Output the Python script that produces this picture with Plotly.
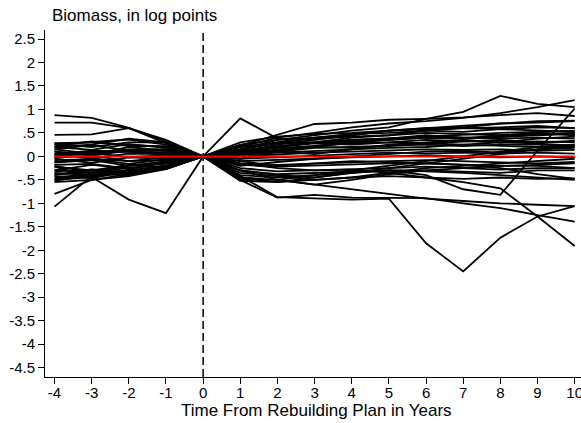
import plotly.graph_objects as go

# Years relative to the start of the rebuilding plan
years = [-4, -3, -2, -1, 0, 1, 2, 3, 4, 5, 6, 7, 8, 9, 10]
year_labels = ["-4", "-3", "-2", "-1", "0", "1", "2", "3", "4", "5", "6", "7", "8", "9", "10"]

# Log biomass of each stock relative to the plan year (year 0 = 0)
stock_01 = [0.88, 0.82, 0.61, 0.32, 0, 0.10, 0.20, 0.28, 0.32, 0.38, 0.42, 0.45, 0.50, 0.52, 0.55]
stock_02 = [0.72, 0.72, 0.60, 0.28, 0, 0.05, 0.15, 0.22, 0.30, 0.35, 0.40, 0.38, 0.42, 0.45, 0.48]
stock_03 = [0.46, 0.47, 0.60, 0.35, 0, 0.15, 0.30, 0.40, 0.45, 0.55, 0.60, 0.62, 0.70, 0.75, 0.76]
stock_04 = [-1.07, -0.42, -0.30, -0.20, 0, 0.08, 0.12, 0.20, 0.18, 0.22, 0.28, 0.25, 0.30, 0.28, 0.32]
stock_05 = [-0.80, -0.50, -0.38, -0.25, 0, -0.20, -0.12, -0.05, 0.00, 0.05, 0.10, 0.12, 0.08, 0.15, 0.18]
stock_06 = [-0.22, -0.44, -0.92, -1.21, 0, 0.12, 0.22, 0.30, 0.35, 0.38, 0.45, 0.40, 0.42, 0.48, 0.50]
stock_07 = [0.05, 0.12, 0.10, 0.08, 0, 0.81, 0.38, 0.28, 0.25, 0.30, 0.28, 0.32, 0.35, 0.30, 0.33]
stock_08 = [-0.12, -0.05, -0.10, -0.08, 0, -0.42, -0.87, -0.89, -0.92, -0.90, -1.85, -2.45, -1.73, -1.28, -1.06]
stock_09 = [0.28, 0.30, 0.25, 0.20, 0, 0.23, 0.46, 0.69, 0.72, 0.78, 0.80, 0.83, 0.88, 0.92, 0.86]
stock_10 = [0.20, 0.25, 0.38, 0.30, 0, 0.15, 0.35, 0.45, 0.55, 0.62, 0.80, 0.95, 1.29, 1.12, 1.05]
stock_11 = [-0.30, -0.18, -0.26, -0.12, 0, 0.20, 0.40, 0.50, 0.62, 0.70, 0.75, 0.82, 0.92, 1.05, 1.20]
stock_12 = [-0.40, -0.28, -0.34, -0.20, 0, -0.30, -0.40, -0.45, -0.35, -0.30, -0.40, -0.70, -0.82, 0.12, 1.02]
stock_13 = [0.15, 0.24, 0.12, 0.15, 0, -0.15, -0.25, -0.30, -0.28, -0.35, -0.45, -0.55, -0.68, -1.28, -1.91]
stock_14 = [-0.20, -0.34, -0.20, -0.15, 0, -0.50, -0.88, -0.82, -0.88, -0.88, -0.89, -1.00, -1.10, -1.25, -1.39]
stock_15 = [-0.48, -0.40, -0.33, -0.25, 0, -0.45, -0.50, -0.60, -0.70, -0.80, -0.90, -0.95, -1.00, -1.03, -1.06]
stock_16 = [0.00, 0.08, -0.02, 0.03, 0, -0.52, -0.55, -0.50, -0.45, -0.42, -0.45, -0.48, -0.45, -0.48, -0.47]
stock_17 = [-0.05, -0.14, -0.02, -0.05, 0, -0.30, -0.50, -0.40, -0.35, -0.30, -0.32, -0.35, -0.40, -0.45, -0.50]
stock_18 = [0.10, 0.04, 0.20, 0.12, 0, -0.10, -0.20, -0.15, -0.10, -0.12, -0.15, -0.18, -0.25, -0.38, -0.48]
stock_19 = [0.25, 0.30, 0.36, 0.25, 0, 0.30, 0.42, 0.48, 0.50, 0.55, 0.58, 0.60, 0.62, 0.65, 0.60]
stock_20 = [0.22, 0.32, 0.22, 0.22, 0, 0.25, 0.35, 0.40, 0.48, 0.50, 0.55, 0.52, 0.58, 0.55, 0.52]
stock_21 = [0.20, 0.14, 0.26, 0.18, 0, 0.20, 0.30, 0.38, 0.42, 0.45, 0.50, 0.48, 0.45, 0.50, 0.45]
stock_22 = [0.15, 0.06, 0.15, 0.15, 0, 0.15, 0.28, 0.30, 0.35, 0.38, 0.42, 0.40, 0.38, 0.40, 0.38]
stock_23 = [0.10, 0.02, 0.12, 0.12, 0, 0.10, 0.18, 0.22, 0.28, 0.30, 0.35, 0.32, 0.30, 0.32, 0.30]
stock_24 = [0.05, -0.04, 0.06, 0.05, 0, 0.05, 0.10, 0.18, 0.20, 0.22, 0.25, 0.22, 0.25, 0.25, 0.24]
stock_25 = [0.02, 0.08, 0.10, 0.04, 0, 0.03, 0.08, 0.12, 0.15, 0.18, 0.20, 0.25, 0.22, 0.20, 0.20]
stock_26 = [-0.03, 0.02, -0.10, -0.02, 0, 0.00, 0.04, 0.08, 0.10, 0.12, 0.15, 0.14, 0.15, 0.12, 0.14]
stock_27 = [-0.08, -0.06, -0.16, -0.06, 0, -0.05, -0.02, 0.02, 0.05, 0.08, 0.06, 0.08, 0.06, 0.08, 0.06]
stock_28 = [-0.13, -0.08, -0.20, -0.10, 0, -0.10, -0.08, -0.05, -0.02, 0.00, 0.02, 0.00, -0.02, 0.00, -0.02]
stock_29 = [-0.18, -0.16, -0.26, -0.14, 0, -0.15, -0.18, -0.15, -0.12, -0.10, -0.08, -0.10, -0.12, -0.15, -0.12]
stock_30 = [-0.22, -0.30, -0.18, -0.16, 0, -0.18, -0.22, -0.20, -0.18, -0.15, -0.15, -0.18, -0.20, -0.18, -0.15]
stock_31 = [-0.28, -0.36, -0.24, -0.20, 0, -0.25, -0.32, -0.30, -0.28, -0.25, -0.22, -0.25, -0.28, -0.25, -0.25]
stock_32 = [-0.32, -0.28, -0.34, -0.22, 0, -0.30, -0.38, -0.35, -0.32, -0.30, -0.30, -0.32, -0.35, -0.30, -0.30]
stock_33 = [-0.35, -0.40, -0.28, -0.24, 0, -0.35, -0.42, -0.50, -0.45, -0.35, -0.25, -0.20, -0.15, -0.10, -0.05]
stock_34 = [-0.38, -0.34, -0.38, -0.25, 0, -0.40, -0.45, -0.40, -0.30, -0.20, -0.10, 0.00, 0.10, 0.20, 0.25]
stock_35 = [-0.42, -0.46, -0.32, -0.27, 0, -0.45, -0.55, -0.45, -0.35, -0.25, -0.15, -0.05, 0.05, 0.15, 0.20]
stock_36 = [-0.45, -0.38, -0.40, -0.26, 0, -0.50, -0.50, -0.60, -0.50, -0.38, -0.30, -0.25, -0.20, -0.20, -0.25]
stock_37 = [-0.50, -0.44, -0.30, -0.22, 0, 0.10, 0.25, 0.35, 0.45, 0.55, 0.60, 0.65, 0.70, 0.72, 0.75]
stock_38 = [-0.55, -0.50, -0.42, -0.27, 0, 0.05, 0.20, 0.30, 0.40, 0.45, 0.55, 0.60, 0.58, 0.62, 0.60]
stock_39 = [0.27, 0.20, 0.30, 0.30, 0, -0.05, 0.10, 0.20, 0.30, 0.35, 0.40, 0.38, 0.45, 0.50, 0.46]
stock_40 = [-0.52, -0.40, -0.36, -0.24, 0, 0.12, 0.10, 0.05, 0.15, 0.25, 0.30, 0.35, 0.30, 0.38, 0.42]

# Reference path (no change) drawn in red on top
reference_path = [0, 0, 0, 0, 0, 0, 0, 0, 0, 0, 0, 0, 0, 0, 0]

# Y-axis tick values and Stata-style labels
y_ticks = [2.5, 2, 1.5, 1, 0.5, 0, -0.5, -1, -1.5, -2, -2.5, -3, -3.5, -4, -4.5]
y_tick_labels = ["2.5", "2", "1.5", "1", ".5", "0", "-.5", "-1", "-1.5", "-2",
                 "-2.5", "-3", "-3.5", "-4", "-4.5"]

stocks = [stock_01, stock_02, stock_03, stock_04, stock_05, stock_06, stock_07, stock_08,
          stock_09, stock_10, stock_11, stock_12, stock_13, stock_14, stock_15, stock_16,
          stock_17, stock_18, stock_19, stock_20, stock_21, stock_22, stock_23, stock_24,
          stock_25, stock_26, stock_27, stock_28, stock_29, stock_30, stock_31, stock_32,
          stock_33, stock_34, stock_35, stock_36, stock_37, stock_38, stock_39, stock_40]

FONT = "Arial, Liberation Sans, sans-serif"

fig = go.Figure()
for path in stocks:
    fig.add_trace(go.Scatter(x=years, y=path, mode="lines",
                             line=dict(color="black", width=1.8),
                             hoverinfo="skip", showlegend=False))

fig.add_trace(go.Scatter(x=years, y=reference_path, mode="lines",
                         line=dict(color="#ff0000", width=2),
                         hoverinfo="skip", showlegend=False))

# Vertical dashed marker at the start of the plan
fig.add_shape(type="line", xref="x", yref="paper", x0=0, x1=0, y0=0, y1=1,
              line=dict(color="black", width=1.5, dash="8px,4px"), layer="below")

fig.update_layout(
    width=581, height=423,
    margin=dict(l=45, r=0, t=30, b=46),
    paper_bgcolor="white", plot_bgcolor="white",
    font=dict(family=FONT, color="black"),
    showlegend=False,
    xaxis=dict(range=[-4.256, 10.17], tickmode="array", tickvals=years,
               ticktext=year_labels,
               ticks="outside", ticklen=6, tickwidth=1, tickcolor="black",
               showline=True, linecolor="black", linewidth=1,
               showgrid=False, zeroline=False, tickfont=dict(size=15),
               ticklabelstandoff=-4, ticklabeloverflow="allow",
               automargin=False),
    yaxis=dict(range=[-4.699, 2.692], tickmode="array", tickvals=y_ticks,
               ticktext=y_tick_labels, ticks="outside", ticklen=6, tickwidth=1,
               tickcolor="black", showline=True, linecolor="black", linewidth=1,
               showgrid=False, zeroline=False, tickfont=dict(size=15),
               automargin=False),
    annotations=[
        dict(text="Biomass, in log points", xref="paper", yref="paper",
             x=(50 - 45) / 536, y=(377 - 16) / 347, xanchor="left", yanchor="middle",
             showarrow=False, font=dict(size=17)),
        dict(text="Time From Rebuilding Plan in Years", xref="paper", yref="paper",
             x=(316 - 45) / 536, y=(377 - 410) / 347, xanchor="center", yanchor="middle",
             showarrow=False, font=dict(size=17)),
    ],
)

fig.write_html("out.html")
